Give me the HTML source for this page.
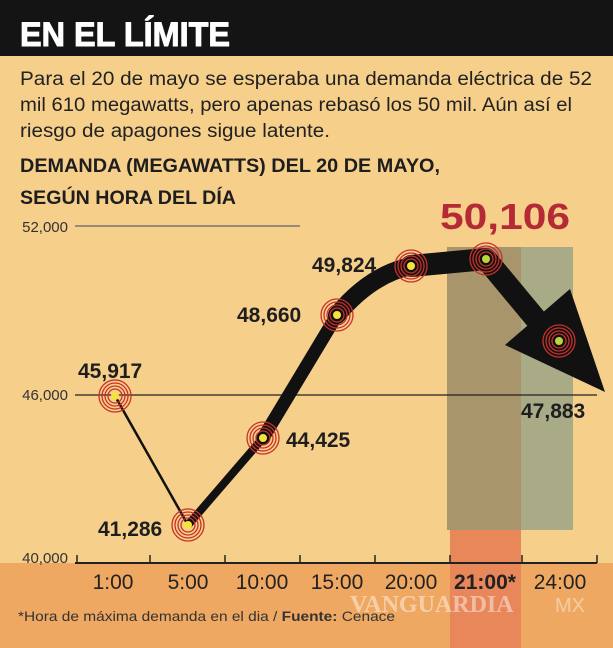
<!DOCTYPE html>
<html><head><meta charset="utf-8"><style>
body{margin:0;width:613px;height:648px;overflow:hidden;background:#f6cf8b;font-family:"Liberation Sans",sans-serif}
</style></head><body>
<svg width="613" height="648" xmlns="http://www.w3.org/2000/svg" style="position:absolute;left:0;top:0">
<defs>
<g id="tg"><circle r="16" fill="none" stroke="#c8302a" stroke-width="1.3"/><circle r="13" fill="none" stroke="#c8302a" stroke-width="1.3"/><circle r="10" fill="none" stroke="#c8302a" stroke-width="1.3"/><circle r="7" fill="none" stroke="#c8302a" stroke-width="1.3"/></g>
</defs>
<rect x="0" y="0" width="613" height="56" fill="#141414"/>
<rect x="0" y="56" width="613" height="592" fill="#f6cf8b"/>
<rect x="0" y="563" width="613" height="85" fill="#efa862"/>
<rect x="450" y="530" width="71" height="118" fill="#e8875a"/>
<rect x="447" y="247" width="74" height="283" fill="#a8956c"/>
<rect x="521" y="247" width="52" height="283" fill="#a8ab86"/>
<text x="20" y="46" font-size="34" font-weight="bold" fill="#fff" textLength="210" lengthAdjust="spacingAndGlyphs" stroke="#fff" stroke-width="1">EN EL LÍMITE</text>
<g font-size="19" fill="#222">
<text x="20" y="85" textLength="572" lengthAdjust="spacingAndGlyphs">Para el 20 de mayo se esperaba una demanda eléctrica de 52</text>
<text x="20" y="111" textLength="552" lengthAdjust="spacingAndGlyphs">mil 610 megawatts, pero apenas rebasó los 50 mil. Aún así el</text>
<text x="20" y="137" textLength="310" lengthAdjust="spacingAndGlyphs">riesgo de apagones sigue latente.</text>
</g>
<g font-size="19" font-weight="bold" fill="#1e1e1e">
<text x="20" y="172" textLength="420" lengthAdjust="spacingAndGlyphs">DEMANDA (MEGAWATTS) DEL 20 DE MAYO,</text>
<text x="20" y="204" textLength="216" lengthAdjust="spacingAndGlyphs">SEGÚN HORA DEL DÍA</text>
</g>
<line x1="75" y1="226" x2="300" y2="226" stroke="#777" stroke-width="1.5"/>
<line x1="75" y1="395" x2="597" y2="395" stroke="#222" stroke-width="1.3"/>
<line x1="75" y1="563" x2="597" y2="563" stroke="#222" stroke-width="2"/>
<g stroke="#222" stroke-width="1.5">
<line x1="77" y1="555" x2="77" y2="563"/><line x1="150" y1="555" x2="150" y2="563"/><line x1="225" y1="555" x2="225" y2="563"/><line x1="300" y1="555" x2="300" y2="563"/><line x1="375" y1="555" x2="375" y2="563"/><line x1="450" y1="555" x2="450" y2="563"/><line x1="522" y1="555" x2="522" y2="563"/><line x1="597" y1="555" x2="597" y2="563"/>
</g>
<g font-size="15" fill="#333" text-anchor="end">
<text x="68" y="232">52,000</text><text x="68" y="400">46,000</text><text x="68" y="563">40,000</text>
</g>
<g font-size="21" fill="#222" text-anchor="middle">
<text x="113" y="589">1:00</text><text x="188" y="589">5:00</text><text x="262" y="589">10:00</text><text x="337" y="589">15:00</text><text x="411" y="589">20:00</text><text x="485" y="589" font-weight="bold">21:00*</text><text x="560" y="589">24:00</text>
</g>
<text x="18" y="621" font-size="14" fill="#333" textLength="377" lengthAdjust="spacingAndGlyphs">*Hora de máxima demanda en el dia / <tspan font-weight="bold">Fuente:</tspan> Cenace</text>
<text x="350" y="612" font-size="24" font-family="Liberation Serif" font-weight="bold" fill="#fff" opacity="0.45">VANGUARDIA</text>
<text x="555" y="612" font-size="20" fill="#fff" opacity="0.4">MX</text>
<line x1="115" y1="396" x2="188" y2="525" stroke="#111" stroke-width="2.5"/>
<path d="M188,525 L263,438" stroke="#111" stroke-width="8" fill="none" stroke-linejoin="round"/>
<path d="M263,438 L337,315" stroke="#111" stroke-width="13" fill="none" stroke-linejoin="round" stroke-linecap="round"/>
<path d="M337,315 Q370,275 411,266" stroke="#111" stroke-width="18" fill="none" stroke-linecap="round"/>
<path d="M411,266 L486,259 L545,330" stroke="#111" stroke-width="22" fill="none" stroke-linejoin="round" stroke-linecap="round"/>
<polygon points="505,345 570,289 605,392" fill="#111"/>
<g>
<use href="#tg" x="115" y="396"/><circle cx="115" cy="396" r="4" fill="#f4e43a"/>
<use href="#tg" x="188" y="525"/><circle cx="188" cy="525" r="4" fill="#f4e43a"/>
<use href="#tg" x="263" y="438"/><circle cx="263" cy="438" r="4" fill="#f4e43a"/>
<use href="#tg" x="337" y="315"/><circle cx="337" cy="315" r="4" fill="#f4e43a"/>
<use href="#tg" x="411" y="266"/><circle cx="411" cy="266" r="4" fill="#f4e43a"/>
<use href="#tg" x="486" y="259"/><circle cx="486" cy="259" r="4" fill="#b8d83a"/>
<use href="#tg" x="559" y="341"/><circle cx="559" cy="341" r="4" fill="#b8d83a"/>
</g>
<g font-size="21" font-weight="bold" fill="#1e1e1e">
<text x="78" y="378">45,917</text>
<text x="98" y="536">41,286</text>
<text x="286" y="447">44,425</text>
<text x="237" y="322">48,660</text>
<text x="312" y="272">49,824</text>
<text x="521" y="418">47,883</text>
</g>
<text x="440" y="229" font-size="36" font-weight="bold" fill="#b52a35" textLength="130" lengthAdjust="spacingAndGlyphs">50,106</text>
</svg>
</body></html>
